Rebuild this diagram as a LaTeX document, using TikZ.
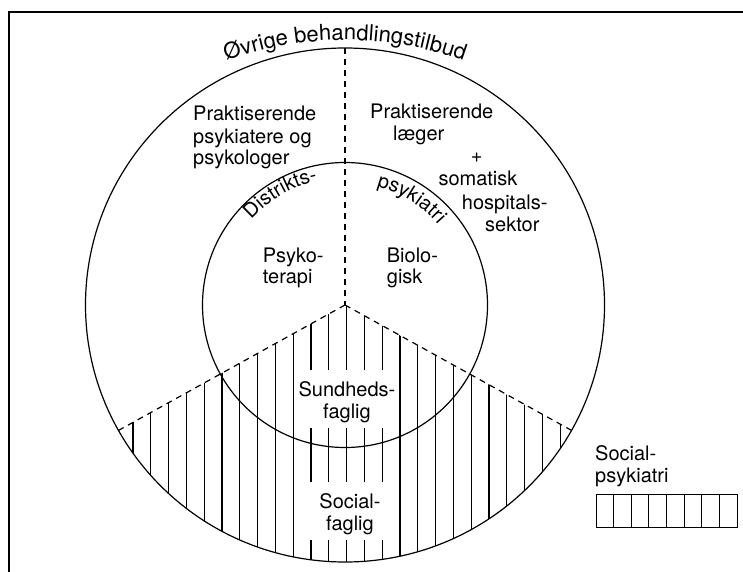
\documentclass[tikz,border=0pt]{standalone}
\usepackage{fontspec}
\setmainfont{TeX Gyre Heros}
\usetikzlibrary{decorations.text,calc}
\tikzset{
  lw/.style={line width=1.2pt},
  dline/.style={lw, dash pattern=on 6pt off 5pt},
  lbl/.style={font=\fontsize{20}{22}\selectfont, inner sep=0pt, anchor=base west},
  clbl/.style={font=\fontsize{20}{22}\selectfont, inner sep=0pt, anchor=base},
}
\begin{document}
\begin{tikzpicture}[x=1pt,y=1pt]
\useasboundingbox (0,0) rectangle (743,571);
% frame (only left and top edges visible)
\draw[line width=2pt] (9,-5) -- (9,559) -- (750,559);
% geometry
\coordinate (C) at (345,266);
\coordinate (T) at (345,523);
\coordinate (L) at (118.5,140.6);
\coordinate (R) at (571.5,140.6);
% hatching of the social-psychiatry sector
\begin{scope}
  \clip (C) -- (L) arc[start angle=209.2, end angle=330.8, x radius=259.5, y radius=257] -- cycle;
  \foreach \k in {-12,...,12}
    \draw[lw] ({346.5+17.8*\k},0) -- ({346.5+17.8*\k},300);
\end{scope}
% gaps of the hatching behind the labels
\fill[white] (300,143) rectangle (394,201);
\fill[white] (300,31) rectangle (394,89);
% circles
\draw[lw] (C) ellipse[x radius=259.5, y radius=257];
\draw[lw] (C) circle[radius=142.5];
% dashed separators
\draw[dline] (T) -- (C);
\draw[dline] (C) -- (L);
\draw[dline] (C) -- (R);
% curved labels
\path[decorate, decoration={text along path, text align=center,
  text={|\fontsize{22}{24}\selectfont|Øvrige behandlingstilbud}}]
  (345,182) ++(125:349) arc[start angle=125, end angle=55, radius=349];
\path[decorate, decoration={text along path, text align=center,
  text={|\fontsize{20}{22}\selectfont|Distrikts-}}]
  (C) ++(150:127) arc[start angle=150, end angle=90, radius=127];
\path[decorate, decoration={text along path, text align=center,
  text={|\fontsize{20}{22}\selectfont|psykiatri}}]
  (C) ++(88:123) arc[start angle=88, end angle=28, radius=123];
% straight labels
\node[lbl] (pp1) at (193,450.3) {Praktiserende};
\node[lbl] (pp2) at (193,427.7) {psykiatere og};
\node[lbl] (pp3) at (193,406) {psykologer};
\node[lbl] (pl1) at (370,452.7) {Praktiserende};
\node[lbl] (pl2) at (393,430) {læger};
\node[font=\fontsize{20}{22}\selectfont, inner sep=0pt] (plus) at (476.7,413) {+};
\node[lbl] (som) at (438.3,385) {somatisk};
\node[lbl] (hos) at (461.7,361.7) {hospitals-};
\node[lbl] (sek) at (485,340) {sektor};
\node[lbl] (psy1) at (262.7,308.3) {Psyko-};
\node[lbl] (psy2) at (262.7,287.7) {terapi};
\node[lbl] (bio1) at (386.7,308.3) {Biolo-};
\node[lbl] (bio2) at (386.7,287.7) {gisk};
\node[clbl] (sun1) at (347,174.3) {Sundheds-};
\node[clbl] (sun2) at (347,152.7) {faglig};
\node[clbl] (soc1) at (350,62.7) {Social-};
\node[clbl] (soc2) at (350,41) {faglig};
% legend
\node[lbl] (leg1) at (595,110.3) {Social-};
\node[lbl] (leg2) at (595,88.3) {psykiatri};
\node[draw, lw, minimum width=141pt, minimum height=33pt, inner sep=0pt, anchor=south west] (legbox) at (596,43) {};
\foreach \i in {1,...,7}
  \draw[lw] ($(legbox.south west)+({17.625*\i},0)$) -- ($(legbox.north west)+({17.625*\i},0)$);
\end{tikzpicture}
\end{document}
